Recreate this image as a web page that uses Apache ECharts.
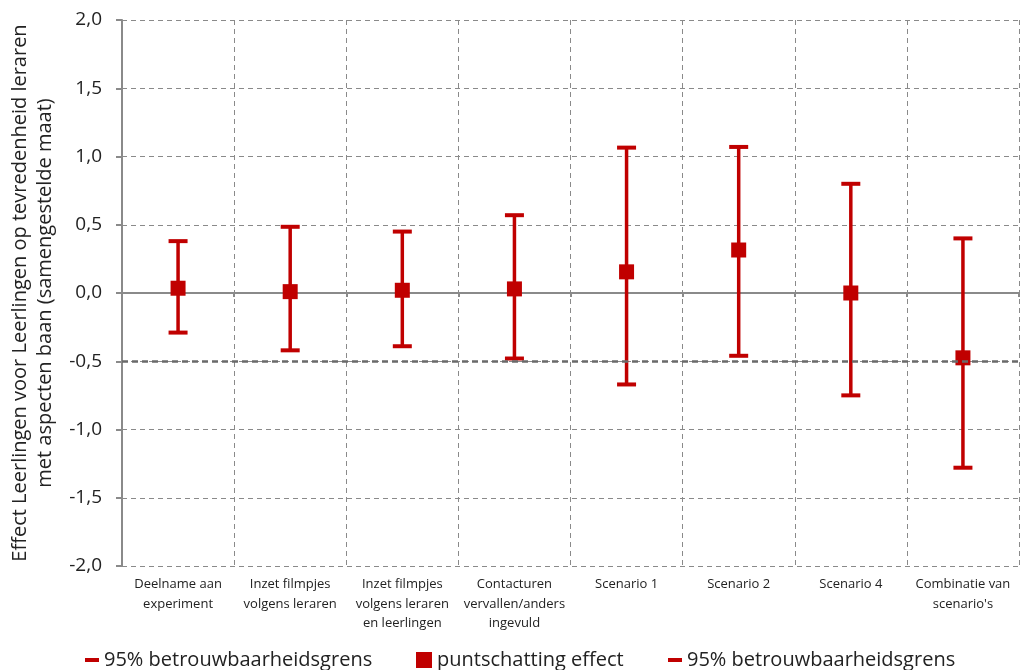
<!DOCTYPE html>
<html>
<head>
<meta charset="utf-8">
<script src="https://cdn.jsdelivr.net/npm/echarts@6/dist/echarts.min.js"></script>
<style>
  html, body { margin: 0; padding: 0; background: #fff; }
  #chart { width: 1025px; height: 670px; }
</style>
</head>
<body>
<div id="chart"></div>
<script>
// Effect per interventie: puntschatting met 95%-betrouwbaarheidsinterval
const categories = [
  'Deelname aan\nexperiment',
  'Inzet filmpjes\nvolgens leraren',
  'Inzet filmpjes\nvolgens leraren\nen leerlingen',
  'Contacturen\nvervallen/anders\ningevuld',
  'Scenario 1',
  'Scenario 2',
  'Scenario 4',
  "Combinatie van\nscenario's"
];
const lowerBound    = [-0.29, -0.42, -0.39, -0.48, -0.67, -0.46, -0.75, -1.28];
const pointEstimate = [0.035, 0.01, 0.02, 0.03, 0.155, 0.315, 0.0, -0.475];
const upperBound    = [0.38, 0.485, 0.45, 0.57, 1.065, 1.07, 0.80, 0.40];
const yTicks = [-2, -1.5, -1, -0.5, 0, 0.5, 1, 1.5, 2];

const RED = '#C00000';
const GRID = '#8a8a8a';
const FONT = '"Open Sans", "Noto Sans", sans-serif';

const legendNames = {
  ondergrens: '95% betrouwbaarheidsgrens',
  puntschatting: 'puntschatting effect',
  bovengrens: '95% betrouwbaarheidsgrens'
};

const rangeData = categories.map((c, i) => [i, lowerBound[i], upperBound[i]]);

const legendBase = {
  top: 645,
  textStyle: { fontFamily: FONT, fontSize: 20, color: '#222' },
  formatter: n => legendNames[n],
  itemGap: 4
};

const chart = echarts.init(document.getElementById('chart'), null, { renderer: 'canvas' });
chart.setOption({
  animation: false,
  backgroundColor: '#fff',
  grid: { left: 122, right: 6, top: 20, bottom: 104, containLabel: false },
  legend: [
    Object.assign({}, legendBase, { left: 80, data: [{ name: 'ondergrens', icon: 'rect' }], itemWidth: 14, itemHeight: 4 }),
    Object.assign({}, legendBase, { left: 411, data: [{ name: 'puntschatting', icon: 'rect' }], itemWidth: 16, itemHeight: 16 }),
    Object.assign({}, legendBase, { left: 663, data: [{ name: 'bovengrens', icon: 'rect' }], itemWidth: 14, itemHeight: 4 })
  ],
  xAxis: [
    {
      type: 'category',
      data: categories,
      position: 'bottom',
      boundaryGap: true,
      axisLine: { show: false, onZero: false },
      axisTick: { show: false },
      axisLabel: {
        interval: 0,
        margin: 9,
        fontFamily: FONT,
        fontSize: 13,
        lineHeight: 19.5,
        color: '#222',
        verticalAlign: 'top'
      },
      splitLine: {
        show: true,
        interval: 0,
        lineStyle: { color: GRID, type: [5, 4], width: 1 }
      }
    },
    {
      type: 'category',
      data: categories,
      position: 'bottom',
      boundaryGap: true,
      axisLine: { show: true, onZero: true, lineStyle: { color: GRID, width: 2 } },
      axisTick: { show: true, length: 4, interval: 0, lineStyle: { color: GRID, width: 2 } },
      axisLabel: { show: false },
      splitLine: { show: false }
    }
  ],
  yAxis: {
    type: 'value',
    min: -2,
    max: 2,
    interval: 0.5,
    name: 'Effect Leerlingen voor Leerlingen op tevredenheid leraren\nmet aspecten baan (samengestelde maat)',
    nameLocation: 'middle',
    nameGap: 64,
    nameTextStyle: { fontFamily: FONT, fontSize: 20, color: '#222', lineHeight: 25 },
    axisLine: { show: true, onZero: false, lineStyle: { color: GRID, width: 2 } },
    axisTick: { show: true, length: 6, lineStyle: { color: GRID, width: 2 } },
    axisLabel: {
      margin: 20,
      fontFamily: FONT,
      fontSize: 19,
      color: '#222',
      formatter: v => yTicks.includes(v) ? v.toFixed(1).replace('.', ',') : ''
    },
    splitLine: { show: true, lineStyle: { color: GRID, type: [5, 4], width: 1 } }
  },
  series: [
    {
      type: 'custom',
      name: 'interval',
      xAxisIndex: 0,
      data: rangeData,
      encode: { x: 0, y: [1, 2] },
      renderItem: (params, api) => {
        const x = api.value(0);
        const lo = api.coord([x, api.value(1)]);
        const hi = api.coord([x, api.value(2)]);
        return {
          type: 'line',
          shape: { x1: lo[0], y1: lo[1], x2: hi[0], y2: hi[1] },
          style: { stroke: RED, lineWidth: 3.5 }
        };
      },
      markLine: {
        silent: true,
        symbol: 'none',
        label: { show: false },
        lineStyle: { color: '#6a6a6a', type: [6, 4], width: 2.5, opacity: 1 },
        data: [{ yAxis: -0.5 }]
      },
      z: 2
    },
    {
      type: 'scatter',
      name: 'ondergrens',
      data: lowerBound,
      symbol: 'rect',
      symbolSize: [19, 4],
      itemStyle: { color: RED, opacity: 1 },
      z: 3
    },
    {
      type: 'scatter',
      name: 'puntschatting',
      data: pointEstimate,
      symbol: 'rect',
      symbolSize: [15, 15],
      itemStyle: { color: RED, opacity: 1 },
      z: 4
    },
    {
      type: 'scatter',
      name: 'bovengrens',
      data: upperBound,
      symbol: 'rect',
      symbolSize: [19, 4],
      itemStyle: { color: RED, opacity: 1 },
      z: 3
    }
  ]
});
</script>
</body>
</html>
